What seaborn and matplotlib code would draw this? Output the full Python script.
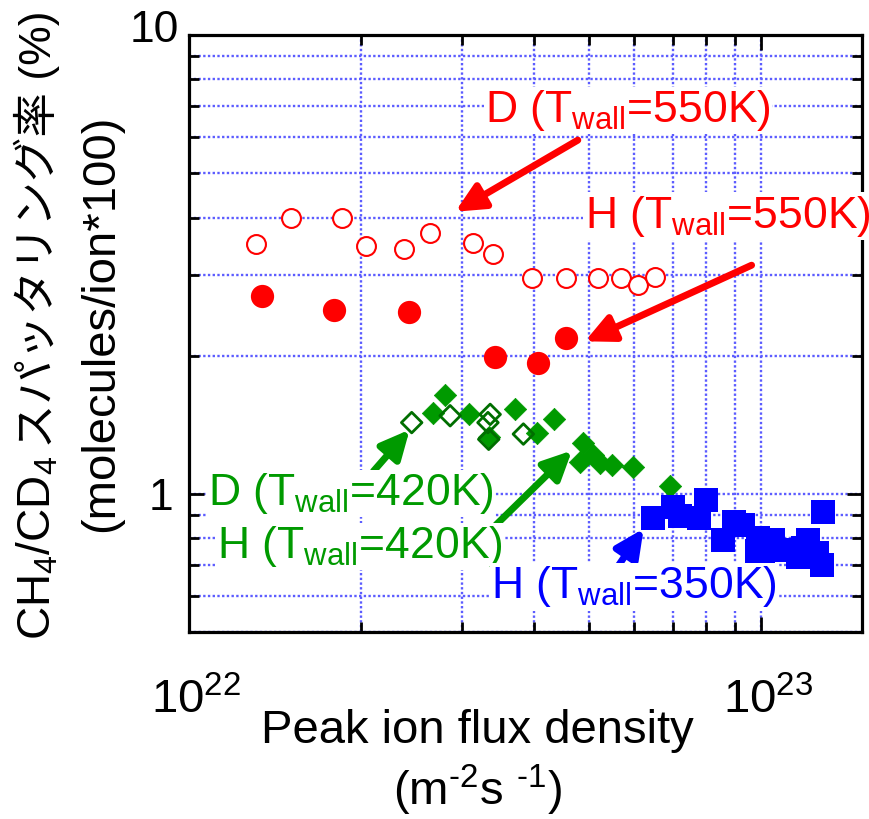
import numpy as np
import pandas as pd
import matplotlib
matplotlib.use("Agg")
import matplotlib.pyplot as plt
import seaborn as sns
from matplotlib.ticker import FixedLocator, FixedFormatter, NullFormatter, LogLocator
from matplotlib.transforms import ScaledTranslation

# ---------------- data ----------------
d550_flux = [1.31e22, 1.51e22, 1.85e22, 2.04e22, 2.38e22, 2.64e22, 3.14e22, 3.40e22,
             3.98e22, 4.56e22, 5.19e22, 5.68e22, 6.10e22, 6.53e22]
d550_rate = [3.51, 4.00, 4.00, 3.47, 3.41, 3.71, 3.52, 3.34,
             2.95, 2.95, 2.95, 2.95, 2.85, 2.97]

h550_flux = [1.34e22, 1.79e22, 2.42e22, 3.43e22, 4.07e22, 4.56e22]
h550_rate = [2.70, 2.52, 2.49, 1.99, 1.93, 2.19]

d420_flux = [2.45e22, 2.86e22, 3.36e22, 3.33e22, 3.34e22, 3.84e22]
d420_rate = [1.43, 1.48, 1.49, 1.43, 1.315, 1.35]

h420_flux = [2.80e22, 2.67e22, 3.09e22, 3.72e22, 4.34e22, 4.05e22, 3.35e22, 4.88e22,
             5.09e22, 4.83e22, 5.23e22, 5.48e22, 5.98e22, 6.93e22]
h420_rate = [1.64, 1.50, 1.49, 1.53, 1.455, 1.36, 1.33, 1.29,
             1.216, 1.176, 1.166, 1.157, 1.143, 1.04]

h350_flux = [6.46e22, 7.02e22, 8.01e22, 7.21e22, 7.80e22, 8.97e22, 8.57e22, 9.31e22,
             9.88e22, 9.82e22, 1.009e23, 1.05e23, 1.086e23, 1.185e23, 1.209e23,
             1.25e23, 1.276e23, 1.284e23, 1.16e23]
h350_rate = [0.888, 0.938, 0.970, 0.897, 0.885, 0.870, 0.794, 0.856,
             0.800, 0.749, 0.712, 0.794, 0.755, 0.762, 0.794,
             0.742, 0.700, 0.915, 0.730]

x_tick_values = [1e22, 1e23]
x_tick_labels = [r"$\mathregular{10^{22}}$", r"$\mathregular{10^{23}}$"]
y_tick_values = [1, 10]
y_tick_labels = ["1", "10"]

label_d550 = r"D (T$\mathregular{_{wall}}$=550K)"
label_h550 = r"H (T$\mathregular{_{wall}}$=550K)"
label_d420 = r"D (T$\mathregular{_{wall}}$=420K)"
label_h420 = r"H (T$\mathregular{_{wall}}$=420K)"
label_h350 = r"H (T$\mathregular{_{wall}}$=350K)"

ylabel_1a = r"CH$\mathregular{_4}$/CD$\mathregular{_4}$"
ylabel_1b = "スパッタリング率 (%)"
ylabel_2 = "(molecules/ion*100)"
xlabel_1 = "Peak ion flux density"
xlabel_2 = r"(m$^{\text{-2}}$s $^{\text{-1}}$)"

# ---------------- style ----------------
sns.set_theme(style="white")
FAMILY = ["Liberation Sans", "Noto Sans CJK JP", "DejaVu Sans"]
plt.rcParams["font.family"] = FAMILY
plt.rcParams["mathtext.fontset"] = "custom"
plt.rcParams["mathtext.rm"] = "Liberation Sans"
plt.rcParams["mathtext.it"] = "Liberation Sans:italic"
plt.rcParams["mathtext.bf"] = "Liberation Sans:bold"

RED = "#ff0000"
GREEN = "#009a00"
DGREEN = "#006e00"
BLUE = "#0000ff"
GRID = "#5c5cff"

fig = plt.figure(figsize=(8.7, 8.19), dpi=100)
ax = fig.add_axes([189 / 870, 1 - 632 / 819, 673 / 870, 597 / 819])

def frame(x, y):
    return pd.DataFrame({"flux": x, "rate": y})

sns.scatterplot(data=frame(h420_flux, h420_rate), x="flux", y="rate", ax=ax,
                marker="D", s=130, color=GREEN, edgecolor=GREEN, linewidth=0.5,
                zorder=3, legend=False)
sns.scatterplot(data=frame(d420_flux, d420_rate), x="flux", y="rate", ax=ax,
                marker="D", s=110, color="none", edgecolor=DGREEN, linewidth=2.0,
                zorder=4, legend=False)
sns.scatterplot(data=frame(h350_flux, h350_rate), x="flux", y="rate", ax=ax,
                marker="s", s=285, color=BLUE, edgecolor=BLUE, linewidth=0,
                zorder=5, legend=False)
sns.scatterplot(data=frame(d550_flux, d550_rate), x="flux", y="rate", ax=ax,
                marker="o", s=185, color="white", edgecolor=RED, linewidth=1.5,
                zorder=3, legend=False)
sns.scatterplot(data=frame(h550_flux, h550_rate), x="flux", y="rate", ax=ax,
                marker="o", s=280, color=RED, edgecolor=RED, linewidth=0,
                zorder=3, legend=False)

ax.set_xscale("log")
ax.set_yscale("log")
ax.set_xlim(1e22, 1.5e23)
ax.set_ylim(0.5, 10)
ax.set_xlabel("")
ax.set_ylabel("")

ax.xaxis.set_major_locator(FixedLocator(x_tick_values))
ax.xaxis.set_major_formatter(FixedFormatter(x_tick_labels))
ax.yaxis.set_major_locator(FixedLocator(y_tick_values))
ax.yaxis.set_major_formatter(FixedFormatter(y_tick_labels))
ax.xaxis.set_minor_locator(LogLocator(base=10, subs=np.arange(2, 10)))
ax.yaxis.set_minor_locator(LogLocator(base=10, subs=np.arange(2, 10)))
ax.xaxis.set_minor_formatter(NullFormatter())
ax.yaxis.set_minor_formatter(NullFormatter())

ax.grid(True, which="both", color=GRID, linestyle=(0, (1, 1)), linewidth=1.7)
ax.set_axisbelow(True)

ax.tick_params(which="both", direction="in", top=True, right=True, bottom=True,
               left=True, width=2, color="black")
ax.tick_params(which="major", length=11)
ax.tick_params(which="minor", length=7.5)
ax.tick_params(axis="x", which="major", pad=33, labelsize=34, colors="black")
ax.tick_params(axis="y", which="major", pad=11, labelsize=32, colors="black")
for sp in ax.spines.values():
    sp.set_visible(True)
    sp.set_color("black")
    sp.set_linewidth(2.3)

fig.canvas.draw()
for lab in ax.get_xticklabels():
    lab.set_transform(lab.get_transform() + ScaledTranslation(7 / 100, 0, fig.dpi_scale_trans))
for lab in ax.get_yticklabels():
    if lab.get_text() == "10":
        lab.set_transform(lab.get_transform() + ScaledTranslation(5 / 100, 9 / 100, fig.dpi_scale_trans))

# ---------------- annotations ----------------
bbox = dict(facecolor="white", edgecolor="none", pad=1)

def arrow(tail, tip, color):
    ax.annotate("", xy=tip, xytext=tail, xycoords="data", textcoords="data",
                arrowprops=dict(arrowstyle="-|>,head_length=1.5,head_width=0.72",
                                mutation_scale=11.5, lw=5, color=color,
                                shrinkA=0, shrinkB=0),
                zorder=6)

arrow((4.78e22, 5.90), (2.92e22, 4.12), RED)
arrow((9.62e22, 3.15), (4.92e22, 2.15), RED)
arrow((2.10e22, 1.12), (2.43e22, 1.38), GREEN)
arrow((3.44e22, 0.856), (4.67e22, 1.243), GREEN)
arrow((5.55e22, 0.68), (6.23e22, 0.84), BLUE)

def label(txt, fx, fy, color):
    ax.text(fx, fy, txt, transform=ax.transAxes, ha="left", va="baseline",
            fontsize=32, color=color, bbox=bbox, zorder=7, clip_on=False)

label(label_d550, 0.440, 0.854, RED)
label(label_h550, 0.588, 0.677, RED)
label(label_d420, 0.028, 0.2127, GREEN)
label(label_h420, 0.042, 0.124, GREEN)
label(label_h350, 0.449, 0.0565, BLUE)

# ---------------- axis titles ----------------
fig.text(51 / 870, 1 - 640 / 819, ylabel_1a, rotation=90, rotation_mode="anchor",
         ha="left", va="baseline", fontsize=33, color="black")
fig.text(51 / 870, 1 - 448 / 819, ylabel_1b, rotation=90, rotation_mode="anchor",
         ha="left", va="baseline", fontsize=32, color="black", family=FAMILY)
fig.text(113 / 870, 1 - 532 / 819, ylabel_2, rotation=90, rotation_mode="anchor",
         ha="left", va="baseline", fontsize=34, color="black")
fig.text(477 / 870, 1 - 743 / 819, xlabel_1, ha="center", va="baseline",
         fontsize=34, color="black")
fig.text(477 / 870, 1 - 805 / 819, xlabel_2, ha="center", va="baseline",
         fontsize=34, color="black")

fig.savefig("out.png", dpi=100)
